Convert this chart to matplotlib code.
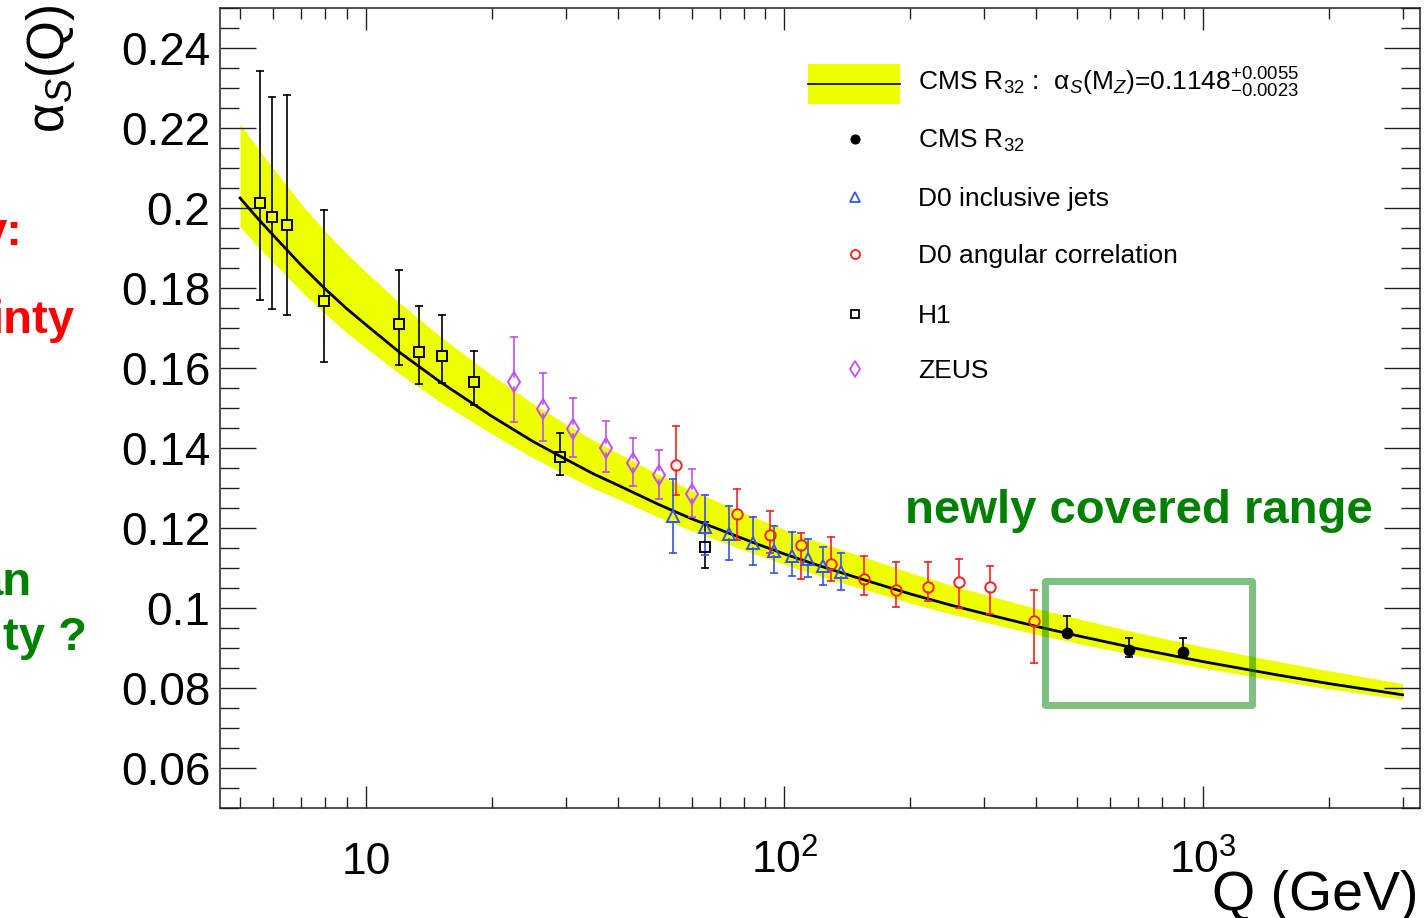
import numpy as np
import matplotlib
matplotlib.use("Agg")
import matplotlib.pyplot as plt
from matplotlib.lines import Line2D
from matplotlib.patches import Rectangle
from matplotlib.ticker import FixedLocator, LogLocator, MultipleLocator, NullFormatter, FuncFormatter
from matplotlib.transforms import blended_transform_factory

plt.rcParams['font.family'] = ['Liberation Sans', 'DejaVu Sans']
plt.rcParams['mathtext.fontset'] = 'custom'
plt.rcParams['mathtext.rm'] = 'Liberation Sans'
plt.rcParams['mathtext.it'] = 'Liberation Sans:italic'
plt.rcParams['mathtext.bf'] = 'Liberation Sans:bold'

# running alpha_s band: central value and band edges
q_curve = [5, 5.5, 6, 7, 8, 9, 10, 12, 15, 20, 25, 30, 35, 40, 50, 60, 70, 85, 100, 120, 150,
           200, 250, 300, 400, 500, 700, 1000, 1500, 2000, 3000]
as_mid = [0.2025, 0.1975, 0.1932, 0.1857, 0.1797, 0.1748, 0.1708, 0.1640, 0.1566, 0.1479, 0.1417,
          0.1372, 0.1335, 0.1307, 0.1259, 0.1223, 0.1196, 0.1162, 0.1135, 0.1107, 0.1075,
          0.1035, 0.1007, 0.0986, 0.0954, 0.0931, 0.0898, 0.0866, 0.0833, 0.0811, 0.0783]
as_up = [0.2210, 0.2151, 0.2099, 0.2010, 0.1941, 0.1886, 0.1840, 0.1764, 0.1680, 0.1582, 0.1512,
         0.1460, 0.1419, 0.1387, 0.1334, 0.1294, 0.1264, 0.1226, 0.1196, 0.1166, 0.1132,
         0.1088, 0.1057, 0.1034, 0.0999, 0.0974, 0.0938, 0.0903, 0.0867, 0.0843, 0.0811]
as_dn = [0.1953, 0.1905, 0.1864, 0.1792, 0.1735, 0.1688, 0.1650, 0.1586, 0.1516, 0.1435, 0.1376,
         0.1334, 0.1299, 0.1273, 0.1227, 0.1193, 0.1167, 0.1135, 0.1109, 0.1082, 0.1051,
         0.1012, 0.0985, 0.0965, 0.0934, 0.0912, 0.0881, 0.0850, 0.0819, 0.0798, 0.0772]

# H1
h1_q = [5.58, 5.95, 6.47, 7.94, 11.97, 13.38, 15.17, 18.1, 29.1, 64.5]
h1_v = [0.2012, 0.1977, 0.1958, 0.1768, 0.1711, 0.1640, 0.1629, 0.1564, 0.1377, 0.1153]
h1_hi = [0.2343, 0.2278, 0.2283, 0.1995, 0.1844, 0.1755, 0.1732, 0.1642, 0.1438, 0.1214]
h1_lo = [0.1770, 0.1748, 0.1732, 0.1615, 0.1608, 0.1561, 0.1562, 0.1508, 0.1333, 0.1100]

# ZEUS
zeus_q = [22.57, 26.5, 31.3, 37.4, 43.4, 50.0, 60.1]
zeus_v = [0.1565, 0.1497, 0.1448, 0.1400, 0.1362, 0.1332, 0.1285]
zeus_hi = [0.1677, 0.1588, 0.1525, 0.1468, 0.1425, 0.1395, 0.1348]
zeus_lo = [0.1465, 0.1417, 0.1378, 0.1339, 0.1304, 0.1273, 0.1227]

# D0 angular correlation
d0a_q = [54.9, 77.1, 92.3, 109.8, 129.2, 155, 184.7, 219.8, 260.6, 309.7, 395.4]
d0a_v = [0.1357, 0.1235, 0.1183, 0.1157, 0.1110, 0.1073, 0.1044, 0.1053, 0.1064, 0.1052, 0.0968]
d0a_hi = [0.1456, 0.1297, 0.1243, 0.1188, 0.1177, 0.1131, 0.1115, 0.1114, 0.1122, 0.1106, 0.1044]
d0a_lo = [0.1282, 0.1170, 0.1137, 0.1073, 0.1068, 0.1033, 0.1003, 0.1018, 0.1000, 0.0986, 0.0863]

# D0 inclusive jets
d0i_q = [54.2, 64.6, 73.8, 84.2, 94.4, 104.4, 114.0, 123.8, 136.5]
d0i_v = [0.1229, 0.1202, 0.1185, 0.1162, 0.1143, 0.1129, 0.1123, 0.1104, 0.1090]
d0i_hi = [0.1323, 0.1282, 0.1254, 0.1227, 0.1204, 0.1189, 0.1173, 0.1153, 0.1138]
d0i_lo = [0.1138, 0.1132, 0.1119, 0.1107, 0.1088, 0.1081, 0.1077, 0.1057, 0.1046]

# CMS R32
cms_q = [474, 666, 898]
cms_v = [0.0938, 0.0896, 0.0891]
cms_hi = [0.0979, 0.0924, 0.0924]
cms_lo = [0.0928, 0.0878, 0.0879]

legend_labels = [r'CMS R$_{32}$ :  $\mathrm{\alpha}_{S}$(M$_{Z}$)=0.1148$^{+0.0055}_{-0.0023}$',
                 r'CMS R$_{32}$', 'D0 inclusive jets', 'D0 angular correlation', 'H1', 'ZEUS']

W, H = 1426, 918
YELLOW = '#EEFF00'
RED = '#FF2020'
BLUE = '#3355EE'
PURPLE = '#C050F0'
GREEN = '#008000'


def fx(px):
    return px / W


def fy(py):
    return 1 - py / H


def draw_set(ax, q, val, hi, lo, color, marker, ms, filled=False, gap=0.0013):
    for x, v, h, l in zip(q, val, hi, lo):
        if h > v + gap:
            ax.plot([x, x], [v + gap, h], color=color, lw=1.2, zorder=4)
        if l < v - gap:
            ax.plot([x, x], [l, v - gap], color=color, lw=1.2, zorder=4)
    ax.plot(q, hi, ls='none', marker='_', ms=6, mew=1.2, color=color, zorder=4)
    ax.plot(q, lo, ls='none', marker='_', ms=6, mew=1.2, color=color, zorder=4)
    ax.plot(q, val, ls='none', marker=marker, ms=ms, mec=color,
            mfc=color if filled else 'none', mew=1.4, zorder=5)


fig = plt.figure(figsize=(W / 100, H / 100), dpi=100)
ax = fig.add_axes([220 / W, 110 / H, 1200 / W, 800 / H])

ax.fill_between(q_curve, as_dn, as_up, color=YELLOW, lw=0, zorder=1)
ax.plot(q_curve, as_mid, color='black', lw=2.0, zorder=2)

draw_set(ax, h1_q, h1_v, h1_hi, h1_lo, 'black', 's', 7)
draw_set(ax, zeus_q, zeus_v, zeus_hi, zeus_lo, PURPLE, 'd', 10)
draw_set(ax, d0a_q, d0a_v, d0a_hi, d0a_lo, RED, 'o', 7.5)
draw_set(ax, d0i_q, d0i_v, d0i_hi, d0i_lo, BLUE, '^', 8)
draw_set(ax, cms_q, cms_v, cms_hi, cms_lo, 'black', 'o', 7, filled=True, gap=0.0)

ax.set_xscale('log')
ax.set_xlim(4.478, 3301)
ax.set_ylim(0.05, 0.25)

ax.xaxis.set_major_locator(FixedLocator([10, 100, 1000]))
ax.xaxis.set_minor_locator(LogLocator(base=10, subs=np.arange(2, 10)))
ax.xaxis.set_major_formatter(NullFormatter())
ax.xaxis.set_minor_formatter(NullFormatter())
ax.yaxis.set_major_locator(MultipleLocator(0.02))
ax.yaxis.set_minor_locator(MultipleLocator(0.005))
ax.yaxis.set_major_formatter(FuncFormatter(lambda v, p: f'{v:g}'))

ax.tick_params(which='both', direction='in', top=True, right=True, color='#222222', width=1.0)
ax.tick_params(axis='y', which='major', length=26, pad=7, labelsize=33)
ax.tick_params(axis='y', which='minor', length=13.5)
ax.tick_params(axis='x', which='major', length=16)
ax.tick_params(axis='x', which='minor', length=8)
for s in ax.spines.values():
    s.set_linewidth(1.1)
    s.set_color('#222222')

# decade labels under the axis
xlab = blended_transform_factory(ax.transData, fig.transFigure)
for q, lab in [(10, '10'), (100, '$10^{2}$'), (1000, '$10^{3}$')]:
    ax.text(q, fy(874), lab, transform=xlab, ha='center', va='baseline', fontsize=32)

fig.text(fx(1419), fy(910), 'Q (GeV)', ha='right', va='baseline', fontsize=40)
fig.text(fx(24), fy(4), r'$\mathrm{\alpha}_{S}$(Q)', rotation=90, ha='left', va='top', fontsize=37)

# legend
fig.add_artist(Rectangle((fx(808), fy(104)), 92 / W, 40 / H, color=YELLOW, lw=0,
                         transform=fig.transFigure))
fig.add_artist(Line2D([fx(808), fx(900)], [fy(84), fy(84)], color='black', lw=1.2,
                      transform=fig.transFigure))
leg_marks = [None, ('o', 'black', True, 6), ('^', BLUE, False, 6.5), ('o', RED, False, 6.5),
             ('s', 'black', False, 6), ('d', PURPLE, False, 8)]
leg_base = [91, 148, 206, 263, 323, 378]
for lab, mk, yb in zip(legend_labels, leg_marks, leg_base):
    fig.text(fx(918), fy(yb), lab, ha='left', va='baseline', fontsize=19)
    if mk is not None:
        m, c, filled, ms = mk
        fig.add_artist(Line2D([fx(855)], [fy(yb - 9)], ls='none', marker=m, ms=ms, mec=c,
                              mfc=c if filled else 'none', mew=1.3, transform=fig.transFigure))

# highlighted region
fig.add_artist(Rectangle((fx(1045), fy(705)), 207 / W, 124 / H, fill=False,
                         ec=(0, 0.5, 0, 0.5), lw=5, joinstyle='round', transform=fig.transFigure))
fig.text(fx(905), fy(523), 'newly covered range', ha='left', va='baseline', fontsize=34,
         fontweight='bold', color=GREEN)

# slide text running in from the left
fig.text(fx(22), fy(245), 'y:', ha='right', va='baseline', fontsize=34, fontweight='bold', color='#FF0000')
fig.text(fx(75), fy(333), 'inty', ha='right', va='baseline', fontsize=34, fontweight='bold', color='#FF0000')
fig.text(fx(2), fy(503), 'n', ha='right', va='baseline', fontsize=34, fontweight='bold', color='#FF0000')
fig.text(fx(32), fy(595), 'an', ha='right', va='baseline', fontsize=34, fontweight='bold', color=GREEN)
fig.text(fx(87), fy(650), 'ty ?', ha='right', va='baseline', fontsize=34, fontweight='bold', color=GREEN)

fig.savefig('out.png', dpi=100)
